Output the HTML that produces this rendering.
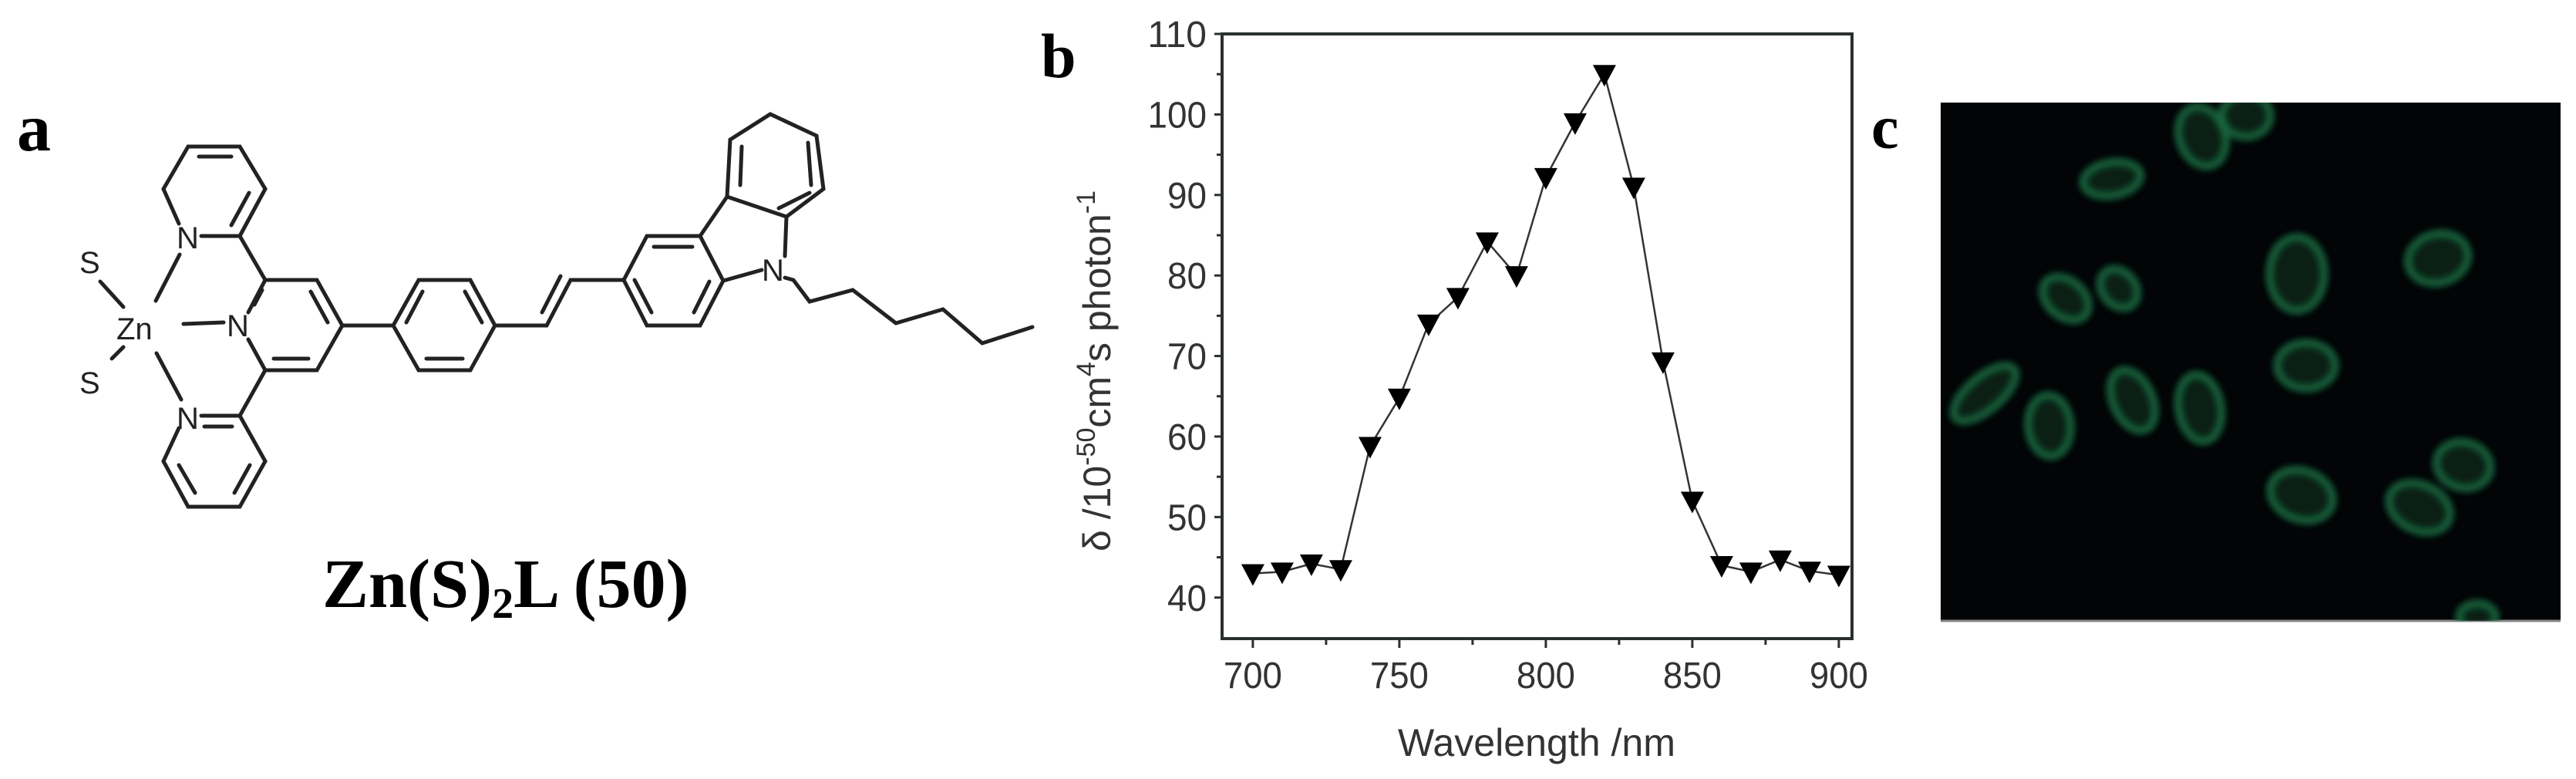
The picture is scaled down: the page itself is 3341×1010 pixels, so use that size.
<!DOCTYPE html>
<html><head><meta charset="utf-8"><style>
html,body{margin:0;padding:0;background:#fff;}
svg{display:block}
</style></head><body>
<svg id="root" width="3341" height="1010" viewBox="0 0 3341 1010" xmlns="http://www.w3.org/2000/svg">
<defs>
<filter id="soft" x="-50%" y="-50%" width="200%" height="200%"><feGaussianBlur stdDeviation="4"/></filter>
<clipPath id="imgclip"><rect x="2517" y="133" width="804" height="672"/></clipPath>
</defs>
<!-- Panel a: molecule -->
<g stroke="#222" stroke-width="5" fill="none" stroke-linecap="round">
<text x="22" y="195" font-family="Liberation Serif, serif" font-weight="bold" font-size="88" fill="#000" stroke="none">a</text>
<path d="M311,306 L344,245 L311,190 L244,190 L212,245 L232,290 M261,306 L311,306 M300,292 L323,250 M258,203 L300,203"/>
<path d="M261,539 L311,539 L344,598 L311,657 L244,657 L212,598 L232,555 M265,553 L301,553 M304,639 L324,603 M232,603 L253,639"/>
<path d="M322,405 L344,363 L411,363 L444,422 L411,480 L344,480 L322,440 M403,378 L425,418 M355,465 L400,465 M340,376 L330,395"/>
<path d="M311,306 L344,363 M311,539 L344,480 M444,422 L510,422"/>
<path d="M510,422 L543,363 L610,363 L642,422 L610,480 L543,480 Z M527,418 L548,378 M603,378 L625,418 M553,465 L600,465"/>
<path d="M642,422 L709,422 L740,363 L809,363 M703,405 L727,358"/>
<path d="M809,363 L839,306 L908,306 L938,364 L908,422 L839,422 Z M848,320 L898,320 M823,363 L845,405 M920,365 L900,405"/>
<path d="M908,306 L943,255 M938,364 L988,350 M1018,332 L1020,281 L943,255"/>
<path d="M943,255 L947,181 L999,148 L1059,176 L1068,245 L1020,281 M960,240 L962,190 M1048,185 L1052,240 M1010,270 L1050,250"/>
<path d="M1018,360 L1029,363 L1050,391 L1106,376 L1162,419 L1223,401 L1274,445 L1339,424"/>
<path d="M233,330 L202,390 M130,365 L160,398 M145,465 L160,450 M203,458 L235,518 M238,420 L290,418"/>
<g font-family="Liberation Sans, sans-serif" font-size="40" fill="#222" stroke="none">
<text x="229" y="322">N</text>
<text x="229" y="556">N</text>
<text x="294" y="436">N</text>
<text x="988" y="364">N</text>
<text x="151" y="440">Zn</text>
<text x="103" y="354">S</text>
<text x="103" y="510">S</text>
</g>
<text x="418" y="787" font-family="Liberation Serif, serif" font-weight="bold" font-size="90" fill="#000" stroke="none">Zn(S)<tspan font-size="56" dy="14">2</tspan><tspan dy="-14">L (50)</tspan></text>
</g>

<text x="1350" y="100" font-family="Liberation Serif, serif" font-weight="bold" font-size="82" fill="#000">b</text>
<g id="chart"></g>

<text x="2427" y="192" font-family="Liberation Serif, serif" font-weight="bold" font-size="80" fill="#000">c</text>
<rect x="2517" y="133" width="804" height="673" fill="#020406"/>
<line x1="2517" y1="805" x2="3321" y2="805" stroke="#888" stroke-width="3"/>
<g id="cells" clip-path="url(#imgclip)" filter="url(#soft)"></g>
</svg>
<script>
const wavelengths = [700,710,720,730,740,750,760,770,780,790,800,810,820,830,840,850,860,870,880,890,900];
const deltaValues = [43,43.2,44.2,43.5,58.8,64.8,74,77.3,84.2,80,92.2,99,105,91,69.3,52,44,43.2,44.7,43.3,42.8];
const yTicks = [40,50,60,70,80,90,100,110];
const xTicks = [700,750,800,850,900];

const NS='http://www.w3.org/2000/svg';
const chart=document.getElementById('chart');
const L=1585,R=2402,T=44,B=828;
const xMin=689.5,xMax=904.5,yMin=34.9,yMax=110;
const X=v=>L+(v-xMin)/(xMax-xMin)*(R-L);
const Y=v=>B-(v-yMin)/(yMax-yMin)*(B-T);
function mk(tag,attrs,parent){const e=document.createElementNS(NS,tag);for(const k in attrs)e.setAttribute(k,attrs[k]);(parent||chart).appendChild(e);return e;}

let frame=mk('rect',{x:L,y:T,width:R-L,height:B-T,fill:'none',stroke:'#2a2f2f','stroke-width':4});



for(let v=40;v<=110;v+=5){
  const major=v%10===0;
  const t=mk('line',{x1:L-(major?10:7),x2:L,y1:Y(v),y2:Y(v),stroke:'#2a2f2f','stroke-width':3});
  
  
}
yTicks.forEach(v=>{
  const t=mk('text',{x:L-20,y:Y(v)+17,'text-anchor':'end','font-family':'Liberation Sans, sans-serif','font-size':48,fill:'#333',textLength:String(v).length*25.5,lengthAdjust:'spacingAndGlyphs'});
  t.textContent=v;
  
  
});
for(let v=700;v<=900;v+=25){
  const major=v%50===0;
  const t=mk('line',{x1:X(v),x2:X(v),y1:B,y2:B+(major?12:8),stroke:'#2a2f2f','stroke-width':3});
  
  
}
xTicks.forEach(v=>{
  const t=mk('text',{x:X(v),y:892,'text-anchor':'middle','font-family':'Liberation Sans, sans-serif','font-size':48,fill:'#333',textLength:76,lengthAdjust:'spacingAndGlyphs'});
  t.textContent=v;
  
  
});
const xt=mk('text',{x:1993,y:980,'text-anchor':'middle','font-family':'Liberation Sans, sans-serif','font-size':50,fill:'#333',textLength:360,lengthAdjust:'spacingAndGlyphs'});
xt.textContent='Wavelength /nm';


const yt=mk('text',{x:0,y:0,'text-anchor':'middle','font-family':'Liberation Sans, sans-serif','font-size':50,fill:'#333',transform:'translate(1440,481) rotate(-90)'});
yt.innerHTML='δ /10<tspan dy="-20" font-size="34">-50</tspan><tspan dy="20">cm</tspan><tspan dy="-20" font-size="34">4</tspan><tspan dy="20">s photon</tspan><tspan dy="-20" font-size="34">-1</tspan>';



const pts=wavelengths.map((w,i)=>X(w)+','+Y(deltaValues[i])).join(' ');
const line=mk('polyline',{points:pts,fill:'none',stroke:'#333','stroke-width':2.5});


wavelengths.forEach((w,i)=>{
  const cx=X(w),cy=Y(deltaValues[i]);
  const m=mk('polygon',{points:`${cx-15},${cy-12} ${cx+15},${cy-12} ${cx},${cy+16}`,fill:'#000'});
  
  
});

const cellList=[[2856,177,30,40,-20],[2913,150,32,28,0],[2739,232,38,22,-10],[2679,387,34,24,40],[2748,374,28,22,50],[2979,355,36,48,0],[3162,335,40,32,-15],[2991,474,38,30,0],[2574,510,22,50,50],[2658,552,28,40,-5],[2766,519,26,42,-25],[2853,529,28,44,-10],[2985,642,42,32,20],[3138,658,42,30,25],[3195,603,36,30,15],[3213,800,24,18,0]];
const cg=document.getElementById('cells');
cellList.forEach(c=>{
  const e=mk('ellipse',{cx:c[0],cy:c[1],rx:c[2],ry:c[3],fill:'#0a2418',stroke:'#176a40','stroke-width':10,opacity:0.85,transform:`rotate(${c[4]} ${c[0]} ${c[1]})`},cg);
  
  
});
</script>
</body></html>
